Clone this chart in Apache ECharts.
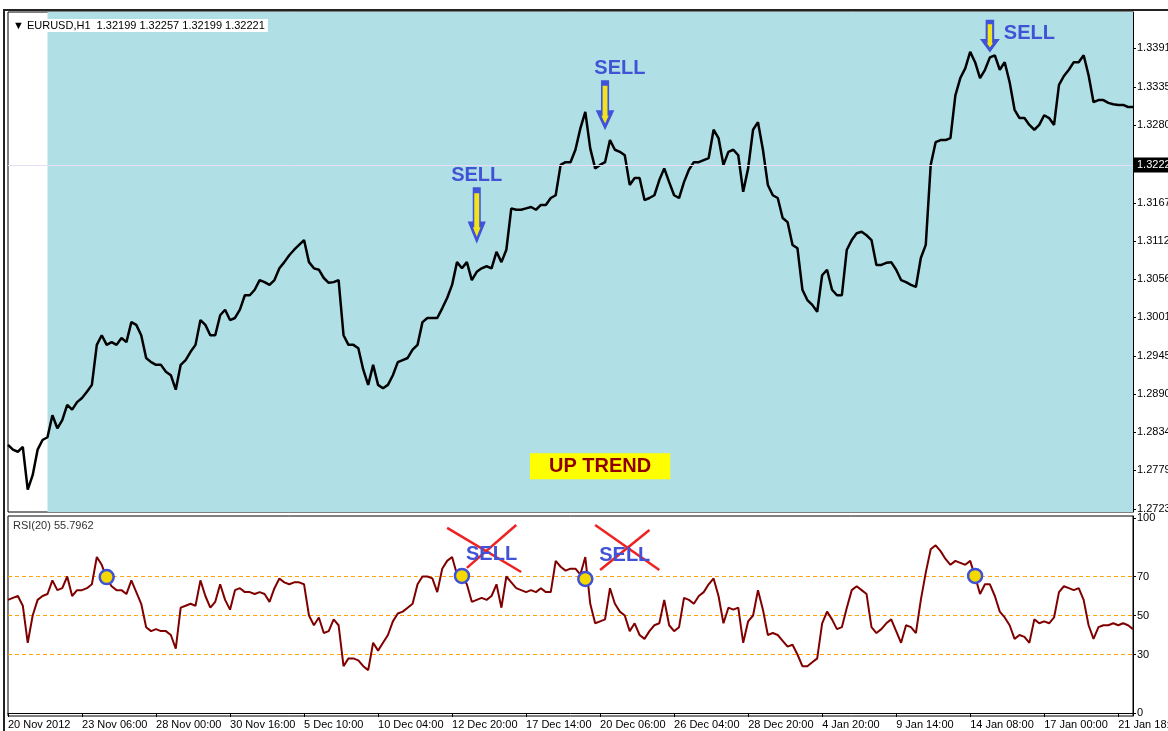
<!DOCTYPE html>
<html>
<head>
<meta charset="utf-8">
<script src="https://cdn.jsdelivr.net/npm/echarts@6/dist/echarts.min.js"></script>
<style>
  html, body { margin: 0; padding: 0; background: #fff; }
  #chart { width: 1168px; height: 731px; }
</style>
</head>
<body>
<div id="chart"></div>
<script>
// EURUSD H1 closes, sampled every ~5 bars across the window
const priceClose = [
  1.2816, 1.2809, 1.2806, 1.2813, 1.2751, 1.2772, 1.2809, 1.2823, 1.2827, 1.2859,
  1.2840, 1.2852, 1.2874, 1.2867, 1.2878, 1.2884, 1.2893, 1.2903, 1.2961, 1.2975,
  1.2961, 1.2965, 1.2961, 1.2971, 1.2965, 1.2994, 1.2990, 1.2975, 1.2942, 1.2936,
  1.2932, 1.2932, 1.2922, 1.2917, 1.2896, 1.2932, 1.2939, 1.2951, 1.2961, 1.2997,
  1.2990, 1.2975, 1.2975, 1.3004, 1.3012, 1.2997, 1.3000, 1.3012, 1.3033, 1.3033,
  1.3041, 1.3055, 1.3052, 1.3048, 1.3055, 1.3072, 1.3081, 1.3091, 1.3099, 1.3106,
  1.3113, 1.3081, 1.3072, 1.3070, 1.3058, 1.3051, 1.3052, 1.3055, 1.2975, 1.2961,
  1.2961, 1.2956, 1.2925, 1.2903, 1.2932, 1.2903, 1.2898, 1.2903, 1.2917, 1.2936,
  1.2939, 1.2942, 1.2954, 1.2961, 1.2994, 1.3000, 1.3000, 1.3000, 1.3014, 1.3029,
  1.3048, 1.3081, 1.3072, 1.3081, 1.3055, 1.3067, 1.3072, 1.3075, 1.3072, 1.3096,
  1.3081, 1.3099, 1.3159, 1.3157, 1.3157, 1.3159, 1.3161, 1.3157, 1.3164, 1.3164,
  1.3174, 1.3178, 1.3222, 1.3226, 1.3226, 1.3244, 1.3275, 1.3299, 1.3246, 1.3217,
  1.3222, 1.3226, 1.3258, 1.3244, 1.3241, 1.3236, 1.3193, 1.3203, 1.3203, 1.3171,
  1.3174, 1.3178, 1.3200, 1.3217, 1.3197, 1.3178, 1.3174, 1.3197, 1.3215, 1.3226,
  1.3226, 1.3229, 1.3232, 1.3273, 1.3261, 1.3222, 1.3241, 1.3244, 1.3236, 1.3183,
  1.3217, 1.3273, 1.3284, 1.3244, 1.3193, 1.3178, 1.3174, 1.3145, 1.3139, 1.3106,
  1.3101, 1.3041, 1.3026, 1.3019, 1.3009, 1.3062, 1.3070, 1.3041, 1.3033, 1.3033,
  1.3099, 1.3113, 1.3123, 1.3125, 1.3120, 1.3113, 1.3077, 1.3077, 1.3080, 1.3081,
  1.3070, 1.3055, 1.3052, 1.3048, 1.3045, 1.3087, 1.3106, 1.3222, 1.3255, 1.3258,
  1.3258, 1.3261, 1.3323, 1.3348, 1.3362, 1.3386, 1.3371, 1.3348, 1.3360, 1.3378,
  1.3381, 1.3360, 1.3371, 1.3342, 1.3302, 1.3290, 1.3290, 1.3280, 1.3273, 1.3280,
  1.3294, 1.3290, 1.3280, 1.3338, 1.3351, 1.3360, 1.3371, 1.3371, 1.3381, 1.3352,
  1.3313, 1.3316, 1.3316, 1.3312, 1.3310, 1.3309, 1.3309, 1.3306, 1.3306
];

// RSI(20) at the same samples
const rsiValues = [
  58, 59, 60, 55, 36, 50, 58, 60, 61, 68,
  63, 64, 70, 60, 63, 63, 64, 66, 80, 76,
  69, 65, 63, 63, 61, 68, 62, 56, 44, 42,
  43, 42, 42, 40, 33, 54, 55, 56, 55, 68,
  60, 54, 57, 66, 58, 53, 63, 64, 62, 62,
  61, 62, 61, 57, 64, 69, 67, 66, 67, 67,
  66, 50, 45, 49, 41, 42, 48, 45, 24, 28,
  28, 27, 24, 22, 36, 32, 36, 40, 47, 51,
  52, 54, 56, 66, 70, 70, 69, 62, 74, 78,
  80, 71, 70, 66, 57, 58, 59, 58, 60, 66,
  54, 70, 67, 64, 63, 62, 63, 62, 64, 62,
  62, 78, 75, 73, 74, 74, 71, 80, 56, 46,
  47, 48, 64, 56, 52, 50, 42, 46, 40, 38,
  42, 45, 46, 58, 45, 42, 44, 59, 58, 56,
  60, 62, 66, 69, 60, 46, 54, 53, 54, 36,
  47, 50, 63, 53, 40, 41, 40, 37, 34, 35,
  30, 24, 24, 26, 28, 46, 52, 48, 43, 44,
  54, 63, 65, 63, 61, 44, 41, 43, 46, 48,
  42, 36, 45, 44, 41, 58, 72, 84, 86, 83,
  79, 76, 78, 77, 76, 78, 70, 61, 66, 66,
  60, 52, 49, 45, 38, 40, 39, 36, 48, 46,
  47, 46, 49, 62, 65, 64, 63, 64, 58, 45,
  38, 44, 45, 45, 46, 45, 46, 45, 43
];

const tickLabels = [
  '20 Nov 2012', '23 Nov 06:00', '28 Nov 00:00', '30 Nov 16:00', '5 Dec 10:00',
  '10 Dec 04:00', '12 Dec 20:00', '17 Dec 14:00', '20 Dec 06:00', '26 Dec 04:00',
  '28 Dec 20:00', '4 Jan 20:00', '9 Jan 14:00', '14 Jan 08:00', '17 Jan 00:00',
  '21 Jan 18:00'
];
const labelStep = 15; // one time label every 15 samples

const priceTicks = [1.2723, 1.2779, 1.2834, 1.2890, 1.2945, 1.3001, 1.3056, 1.3112,
  1.3167, 1.3280, 1.3335, 1.3391];
const lastPrice = 1.3222;
const rsiTicks = [0, 30, 50, 70, 100];
const rsiLevels = [30, 50, 70];

// [sample index, price] for the SELL notes, [sample index, rsi] for the RSI notes
const sellTexts = [[95, 1.3207], [124, 1.3362], [207, 1.3413]];
const sellArrows = [[95, 1.3149, 50], [121, 1.3309, 44], [199, 1.3409, 28]];
const upTrendAt = [120, 1.2785];
const rsiCircles = [[20, 69.7], [92, 70.3], [117, 68.7], [196, 70.3]];
const crossedSell = [[98, 81.5], [125, 81.0]];
const crossLines = [
  [[89, 94.9], [104, 72.3]], [[103, 96.4], [93, 74.4]],
  [[119, 96.4], [132, 73.3]], [[130, 93.8], [120, 73.3]]
];

const categories = priceClose.map((_, i) => String(i));
const font = '"Liberation Sans", Arial, sans-serif';
const sellBlue = '#4152d6';
const levelOrange = '#ffa000';
const arrowPath = 'path://M3,0 L9,0 L9,30 L12,30 L6,44 L0,30 L3,30 Z';

const chart = echarts.init(document.getElementById('chart'));

// RSI reference levels as flat dashed lines under the RSI curve
const levelSeries = rsiLevels.map((v) => ({
  name: 'level ' + v, type: 'line', xAxisIndex: 1, yAxisIndex: 1,
  data: categories.map(() => v), symbol: 'none', z: 1, silent: true,
  lineStyle: { color: levelOrange, type: [4, 3], width: 1 },
  emphasis: { disabled: true }
}));

const option = {
  animation: false,
  backgroundColor: '#fff',
  textStyle: { fontFamily: font },
  title: [
    {
      text: '▼ EURUSD,H1  1.32199 1.32257 1.32199 1.32221',
      left: 10, top: 19, padding: [1, 3],
      backgroundColor: '#fff',
      textStyle: { fontSize: 11, fontWeight: 'normal', color: '#000', fontFamily: font }
    },
    {
      text: 'RSI(20) 55.7962',
      left: 11, top: 519, padding: [1, 2],
      textStyle: { fontSize: 11, fontWeight: 'normal', color: '#333', fontFamily: font }
    }
  ],
  grid: [
    { left: 8, right: 35, top: 12, height: 500, show: true, backgroundColor: '#fff',
      borderColor: '#000', borderWidth: 1, outerBoundsMode: 'none' },
    { left: 8, right: 35, top: 516, height: 200, show: true, backgroundColor: '#fff',
      borderColor: '#000', borderWidth: 1, outerBoundsMode: 'none' }
  ],
  xAxis: [
    {
      type: 'category', gridIndex: 0, data: categories, boundaryGap: false,
      axisLine: { show: false }, axisTick: { show: false },
      axisLabel: { show: false }, splitLine: { show: false }
    },
    {
      type: 'category', gridIndex: 1, data: categories, boundaryGap: false,
      axisLine: { lineStyle: { color: '#000' } },
      axisTick: { interval: (i) => i % labelStep === 0, length: 4, lineStyle: { color: '#000' } },
      axisLabel: {
        interval: (i) => i % labelStep === 0,
        formatter: (v, i) => tickLabels[Math.round(Number(v) / labelStep)] || '',
        align: 'left', margin: 3, fontSize: 11, color: '#000'
      },
      splitLine: { show: false }
    }
  ],
  yAxis: [
    {
      type: 'value', gridIndex: 0, position: 'right', min: 1.27186, max: 1.34438,
      axisLine: { show: true, lineStyle: { color: '#000' } },
      axisTick: { show: true, customValues: priceTicks, length: 3, lineStyle: { color: '#000' } },
      axisLabel: { customValues: priceTicks, formatter: (v) => v.toFixed(4), fontSize: 11,
        color: '#000', margin: 4 },
      splitLine: { show: false }
    },
    {
      type: 'value', gridIndex: 1, position: 'right', min: -1.54, max: 101.02,
      axisLine: { show: true, lineStyle: { color: '#000' } },
      axisTick: { show: true, customValues: rsiTicks, length: 3, lineStyle: { color: '#000' } },
      axisLabel: { customValues: rsiTicks, fontSize: 11, color: '#000', margin: 4 },
      splitLine: { show: false }
    }
  ],
  series: [
    {
      name: 'EURUSD', type: 'line', xAxisIndex: 0, yAxisIndex: 0,
      data: priceClose, symbol: 'none', z: 3,
      lineStyle: { color: '#000', width: 2.5 },
      markArea: {
        silent: true, itemStyle: { color: '#b0e0e6' },
        data: [[{ xAxis: '8' }, { xAxis: categories[categories.length - 1] }]]
      },
      markLine: {
        silent: true, symbol: 'none', precision: 4,
        lineStyle: { color: '#e6def4', width: 1, type: 'solid' },
        label: { position: 'end', formatter: () => lastPrice.toFixed(4), backgroundColor: '#000',
          color: '#fff', padding: [2, 3], fontSize: 11, distance: 1 },
        data: [{ yAxis: lastPrice }]
      },
      markPoint: {
        silent: true,
        data: [
          ...sellTexts.map((c) => ({
            coord: c, symbol: 'rect', symbolSize: 1, itemStyle: { color: 'rgba(0,0,0,0)' },
            label: { show: true, position: 'inside', formatter: 'SELL', color: sellBlue,
              fontSize: 20, fontWeight: 'bold', fontFamily: font }
          })),
          ...sellArrows.map((a) => ({
            coord: [a[0], a[1]], symbol: arrowPath, symbolSize: [13, a[2]],
            itemStyle: { color: '#f2e41c', borderColor: sellBlue, borderWidth: 3 },
            label: { show: false }
          })),
          {
            coord: upTrendAt, symbol: 'rect', symbolSize: 1, itemStyle: { color: 'rgba(0,0,0,0)' },
            label: { show: true, position: 'inside', formatter: 'UP TREND', color: '#8e0000',
              backgroundColor: '#ffff00', padding: [3, 19, 3, 19], fontSize: 20,
              fontWeight: 'bold', fontFamily: font }
          }
        ]
      }
    },
    ...levelSeries,
    {
      name: 'RSI(20)', type: 'line', xAxisIndex: 1, yAxisIndex: 1,
      data: rsiValues, symbol: 'none', z: 3,
      lineStyle: { color: '#800000', width: 2 },
      markPoint: {
        silent: true,
        data: [
          ...rsiCircles.map((c) => ({
            coord: c, symbol: 'circle', symbolSize: 14,
            itemStyle: { color: '#f4d800', borderColor: '#3d52d6', borderWidth: 2.5 },
            label: { show: false }
          })),
          ...crossedSell.map((c) => ({
            coord: c, symbol: 'rect', symbolSize: 1, itemStyle: { color: 'rgba(0,0,0,0)' },
            label: { show: true, position: 'inside', formatter: 'SELL', color: sellBlue,
              fontSize: 20, fontWeight: 'bold', fontFamily: font }
          }))
        ]
      }
    },
    {
      name: 'cross', type: 'line', xAxisIndex: 1, yAxisIndex: 1, data: [], z: 10,
      markLine: {
        silent: true, symbol: 'none', label: { show: false },
        lineStyle: { color: '#ee2222', width: 2.5, type: 'solid' },
        data: crossLines.map((l) => [{ coord: l[0] }, { coord: l[1] }])
      }
    }
  ],
  graphic: [
    { type: 'rect', shape: { x: 3, y: 9, width: 1165, height: 2 }, style: { fill: '#222' } },
    { type: 'rect', shape: { x: 3, y: 9, width: 2, height: 722 }, style: { fill: '#222' } }
  ]
};

chart.setOption(option);
</script>
</body>
</html>
